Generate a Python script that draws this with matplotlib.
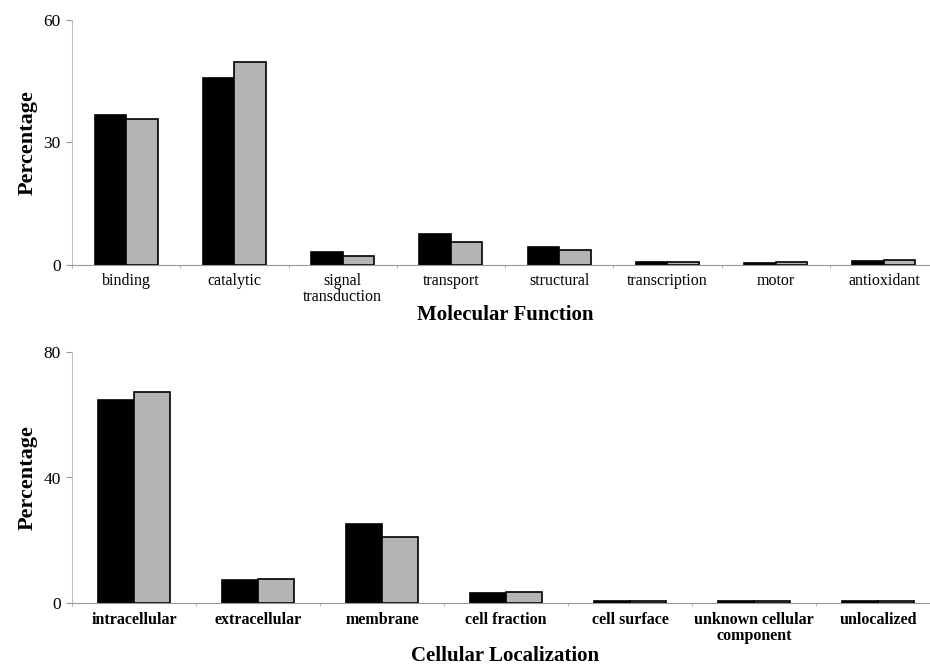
import numpy as np
import matplotlib
matplotlib.use("Agg")
import matplotlib.pyplot as plt

plt.rcParams['font.family'] = ['Liberation Serif', 'DejaVu Serif']

# molecular function categories (percent of proteins, two sets)
func_labels = ['binding', 'catalytic', 'signal\ntransduction', 'transport',
               'structural', 'transcription', 'motor', 'antioxidant']
func_set1 = [36.7, 45.6, 3.1, 7.6, 4.5, 0.7, 0.6, 1.0]
func_set2 = [35.6, 49.5, 2.3, 5.5, 3.7, 0.7, 0.8, 1.2]

# cellular localization categories
loc_labels = ['intracellular', 'extracellular', 'membrane', 'cell fraction',
              'cell surface', 'unknown cellular\ncomponent', 'unlocalized']
loc_set1 = [64.6, 7.4, 25.2, 3.4, 0.8, 0.7, 0.8]
loc_set2 = [67.3, 7.8, 21.2, 3.7, 0.8, 0.8, 0.8]

W, H = 930, 665
fig = plt.figure(figsize=(W / 100, H / 100), dpi=100)


def panel(rect, labels, s1, s2, ymax, yticks, title, title_y, bold_labels):
    ax = fig.add_axes(rect)
    x = np.arange(len(labels))
    bw = 0.29
    ax.bar(x - bw / 2, s1, bw, color='black', edgecolor='black', linewidth=1.2)
    ax.bar(x + bw / 2, s2, bw, color='#b4b4b4', edgecolor='black', linewidth=1.2)
    ax.set_xlim(-0.5, len(labels) - 0.5)
    ax.set_ylim(0, ymax)
    ax.set_yticks(yticks)
    ax.set_xticks(x)
    ax.set_xticklabels(labels, fontsize=11.5 if not bold_labels else 11.5,
                       fontweight='bold' if bold_labels else 'normal',
                       linespacing=1.0)
    ax.set_xticks(np.arange(len(labels) + 1) - 0.5, minor=True)
    ax.tick_params(axis='x', which='major', length=0, pad=6)
    ax.tick_params(axis='x', which='minor', length=2, color='#aaaaaa')
    ax.tick_params(axis='y', length=4, color='#999999', labelsize=12.5, pad=4)
    for s in ('top', 'right'):
        ax.spines[s].set_visible(False)
    ax.spines['left'].set_color('#bbbbbb')
    ax.spines['bottom'].set_color('#999999')
    ax.spines['left'].set_linewidth(0.8)
    ax.spines['bottom'].set_linewidth(0.8)
    ax.set_ylabel('Percentage', fontsize=16, fontweight='bold', labelpad=4)
    fig.text(505 / W, title_y, title, ha='center', va='top',
             fontsize=15, fontweight='bold')
    return ax


panel([72 / W, 1 - 265 / H, 866 / W, 245.5 / H], func_labels, func_set1,
      func_set2, 60, [0, 30, 60], 'Molecular Function', 1 - 305 / H, False)
panel([72 / W, 1 - 603.3 / H, 868 / W, 251.6 / H], loc_labels, loc_set1,
      loc_set2, 80, [0, 40, 80], 'Cellular Localization', 1 - 646 / H, True)

fig.savefig('out.png', dpi=100)
